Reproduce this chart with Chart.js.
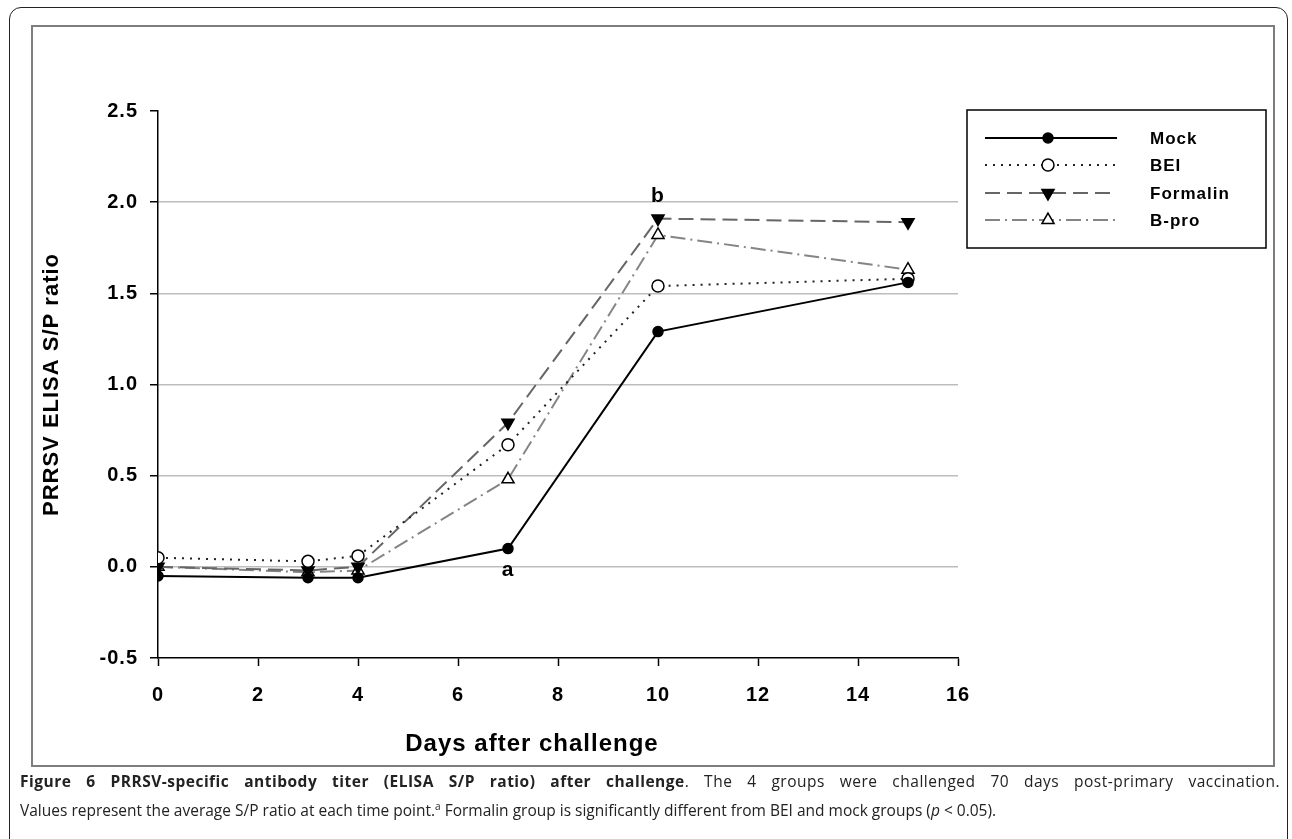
<!DOCTYPE html>
<html>
<head>
<meta charset="utf-8">
<script src="https://cdn.jsdelivr.net/npm/chart.js@4"></script>
<style>
  html, body { margin: 0; padding: 0; background: #fff; overflow: hidden; }
  body { width: 1292px; height: 839px; position: relative; }
  .outer {
    position: absolute; left: 9px; top: 7px; width: 1279px; height: 850px;
    border: 1.5px solid #222; border-radius: 12px; box-sizing: border-box;
  }
  .frame {
    position: absolute; left: 31px; top: 25px; width: 1244px; height: 742px;
    border: 2px solid #7d7d7d; box-sizing: border-box; background: #fff;
  }
  #wrap { position: absolute; left: 0; top: 0; width: 1292px; height: 770px; }
  .caption {
    position: absolute; left: 20px; top: 769px; width: 1260px;
    font-family: "Open Sans", sans-serif; font-size: 15.5px; color: #222; line-height: 25px;
  }
  .caption .l1 { text-align: justify; text-align-last: justify; white-space: nowrap; letter-spacing: 0.5px; }
</style>
</head>
<body>
<div class="outer"></div>
<div class="frame"></div>
<div id="wrap"><canvas id="chart"></canvas></div>
<div class="caption">
  <div class="l1"><b>Figure 6 PRRSV-specific antibody titer (ELISA S/P ratio) after challenge</b>. The 4 groups were challenged 70 days post-primary vaccination.</div>
  <div>Values represent the average S/P ratio at each time point.<sup style="font-size:10px">a</sup> Formalin group is significantly different from BEI and mock groups (<i>p</i> &lt; 0.05).</div>
</div>
<script>
// ==========================
// DATA
// ==========================
const days = [0, 3, 4, 7, 10, 15];
const groupNames = ["Mock", "BEI", "Formalin", "B-pro"];
const mock = [-0.05, -0.06, -0.06, 0.10, 1.29, 1.56];
const bei = [0.05, 0.03, 0.06, 0.67, 1.54, 1.58];
const formalin = [0.0, -0.02, 0.0, 0.79, 1.91, 1.89];
const bpro = [0.0, -0.03, -0.02, 0.48, 1.82, 1.63];
const xTicks = [0, 2, 4, 6, 8, 10, 12, 14, 16];
const yTicks = [-0.5, 0.0, 0.5, 1.0, 1.5, 2.0, 2.5];
const xTitle = "Days after challenge";
// significance letters: [text, day, series index]
const sigLetters = [["a", 7, 0], ["b", 10, 2]];

const allSeries = [mock, bei, formalin, bpro];
const toPoints = arr => days.map((d, i) => ({ x: d, y: arr[i] }));

const styles = [
  { color: "#000", dash: [], width: 2, pointStyle: "circle", radius: 5, fill: "#000", rot: 0 },
  { color: "#222", dash: [2, 6], width: 2, pointStyle: "circle", radius: 6, fill: "#fff", rot: 0 },
  { color: "#666", dash: [15, 7], width: 2, pointStyle: "triangle", radius: 7, fill: "#000", rot: 180 },
  { color: "#858585", dash: [15, 5, 2, 5], width: 2, pointStyle: "triangle", radius: 7, fill: "#fff", rot: 0 }
];

const datasets = groupNames.map((name, i) => ({
  label: name,
  data: toPoints(allSeries[i]),
  borderColor: styles[i].color,
  borderDash: styles[i].dash,
  borderWidth: styles[i].width,
  pointStyle: styles[i].pointStyle,
  pointRadius: styles[i].radius,
  pointRotation: styles[i].rot,
  pointBackgroundColor: styles[i].fill,
  pointBorderColor: "#000",
  pointBorderWidth: 1.5,
  tension: 0
}));

const FAM = "'Liberation Sans', Arial, sans-serif";

// ==========================
// PLUGINS: spacing, legend box, letters, x title
// ==========================
const spacing = {
  id: "spacing",
  beforeDraw(chart) { chart.ctx.letterSpacing = "1px"; }
};

const boxLegend = {
  id: "boxLegend",
  afterDraw(chart) {
    const ctx = chart.ctx;
    ctx.save();
    ctx.strokeStyle = "#000";
    ctx.lineWidth = 1.5;
    ctx.strokeRect(967, 110, 299, 138);
    const rows = [138, 165, 193, 220];
    groupNames.forEach((name, i) => {
      const st = styles[i];
      const y = rows[i];
      ctx.beginPath();
      ctx.setLineDash(st.dash);
      ctx.strokeStyle = st.color;
      ctx.lineWidth = st.width;
      ctx.moveTo(985, y);
      ctx.lineTo(1117, y);
      ctx.stroke();
      ctx.setLineDash([]);
      ctx.fillStyle = st.fill;
      ctx.strokeStyle = "#000";
      ctx.lineWidth = 1.5;
      Chart.helpers.drawPoint(ctx, { pointStyle: st.pointStyle, radius: st.radius, rotation: st.rot, borderWidth: 1.5 }, 1048, y);
      ctx.fillStyle = "#000";
      ctx.font = "bold 17px " + FAM;
      ctx.textBaseline = "middle";
      ctx.fillText(name, 1150, y + 1);
    });

    const xs = chart.scales.x, ys = chart.scales.y;
    ctx.font = "bold 21px " + FAM;
    ctx.textAlign = "center";
    ctx.textBaseline = "middle";
    sigLetters.forEach(([t, day, si]) => {
      const idx = days.indexOf(day);
      const px = xs.getPixelForValue(day);
      const py = ys.getPixelForValue(allSeries[si][idx]);
      ctx.fillText(t, px, si === 0 ? py + 22 : py - 22);
    });

    // x axis title sits a little left of the plot centre in the original
    ctx.font = "bold 24px " + FAM;
    ctx.fillText(xTitle, 532, 744);
    ctx.restore();
  }
};

// ==========================
// CHART
// ==========================
const ctx = document.getElementById("chart").getContext("2d");
const axisFont = { family: FAM, size: 20, weight: "bold" };

new Chart(ctx, {
  type: "line",
  data: { datasets },
  options: {
    responsive: true,
    maintainAspectRatio: false,
    animation: false,
    layout: { padding: { left: 33, top: 111, right: 334, bottom: 12 } },
    plugins: { legend: { display: false }, tooltip: { enabled: false } },
    scales: {
      x: {
        type: "linear",
        min: 0,
        max: 16,
        afterFit: s => { s.height = 100; },
        afterBuildTicks: s => { s.ticks = xTicks.map(v => ({ value: v })); },
        ticks: { color: "#000", font: axisFont, padding: 17 },
        grid: { drawOnChartArea: false, tickLength: 8, tickColor: "#000", tickWidth: 1.5 },
        border: { color: "#000", width: 1.5 },
        title: { display: false }
      },
      y: {
        min: -0.5,
        max: 2.5,
        afterFit: s => { s.width = 125; },
        afterBuildTicks: s => { s.ticks = yTicks.map(v => ({ value: v })); },
        ticks: { color: "#000", font: axisFont, padding: 12, callback: v => v.toFixed(1) },
        grid: {
          color: c => (c.tick && (c.tick.value === 2.5 || c.tick.value === -0.5)) ? "rgba(0,0,0,0)" : "#bdbdbd",
          lineWidth: 1.5,
          tickLength: 8,
          tickColor: "#000",
          tickWidth: 1.5
        },
        border: { color: "#000", width: 1.5 },
        title: {
          display: true,
          text: "PRRSV ELISA S/P ratio",
          color: "#000",
          font: { family: FAM, size: 22, weight: "bold" },
          padding: { top: 6, bottom: 0 }
        }
      }
    }
  },
  plugins: [spacing, boxLegend]
});
</script>
</body>
</html>
